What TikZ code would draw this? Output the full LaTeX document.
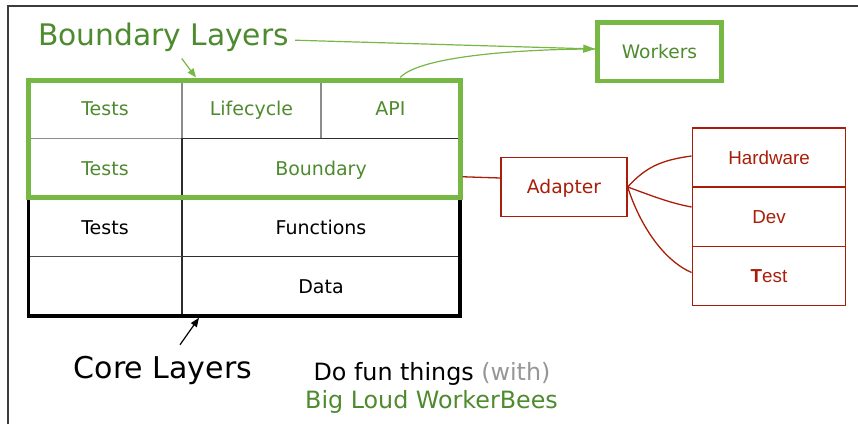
\documentclass[tikz,border=0pt]{standalone}
\usepackage{fontspec}
\setmainfont{DejaVu Sans}
\newfontfamily\arialfont{Liberation Sans}
\usetikzlibrary{arrows.meta}
\definecolor{gline}{RGB}{119,183,67}
\definecolor{gtext}{RGB}{78,138,46}
\definecolor{rcol}{RGB}{168,30,10}
\definecolor{framecol}{RGB}{60,60,60}
\definecolor{softgray}{RGB}{150,150,150}
\definecolor{cellgray}{RGB}{140,140,140}
\definecolor{celldark}{RGB}{45,45,45}
\begin{document}
\begin{tikzpicture}[x=1pt,y=-1pt,
  cell/.style={inner sep=0pt, text height=13.8pt, text depth=0pt, font=\fontsize{19}{23}\selectfont},
  gcell/.style={cell, text=gtext},
  kcell/.style={cell, text=black},
  rbox/.style={draw=rcol, line width=1.4pt, text=rcol, inner sep=0pt, minimum width=153.5pt, minimum height=59pt, text height=13.4pt, text depth=0pt, font=\arialfont\fontsize{18.8}{22}\selectfont},
  big/.style={inner sep=0pt, text depth=0pt, font=\fontsize{29.7}{35}\selectfont},
  gridl/.style={line width=1.5pt}
]
\useasboundingbox (0,0) rectangle (858,424);
% frame
\draw[framecol, line width=1.6pt] (8,424) -- (8,6) -- (858,6);

% table inner grid
\draw[gridl, cellgray] (182,80) -- (182,138);
\draw[gridl, cellgray] (321,80) -- (321,138);
\draw[gridl, cellgray] (28.5,138.3) -- (182,138.3);
\draw[gridl, celldark] (182,138.3) -- (460,138.3);
\draw[gridl, celldark] (182,138.3) -- (182,316);
\draw[gridl, black!70] (28.5,256.7) -- (182,256.7);
\draw[gridl, celldark] (182,256.7) -- (460,256.7);

% thick boxes
\node[draw=black, line width=3.6pt, minimum width=431.5pt, minimum height=118.5pt, inner sep=0pt] (core) at (244.25,256.75) {};
\node[draw=gline, line width=5pt, minimum width=431.5pt, minimum height=117.5pt, inner sep=0pt] (bnd) at (244.25,138.75) {};

% cell texts
\node[gcell] (t1) at (105,109) {Tests};
\node[gcell] (lc) at (251.5,109) {Lifecycle};
\node[gcell] (api) at (390.5,109) {API};
\node[gcell] (t2) at (105,168.2) {Tests};
\node[gcell] (bd) at (321,168.2) {Boundary};
\node[kcell] (t3) at (105,227.3) {Tests};
\node[kcell] (fn) at (321,227.3) {Functions};
\node[kcell] (dt) at (321,286.3) {Data};

% labels
\node[big, text=gtext, text height=21.6pt] (bl) at (163.5,34.2) {Boundary Layers};
\node[big, text=black, text height=21.9pt, font=\fontsize{30}{36}\selectfont] (cl) at (163,367.4) {Core Layers};
\node[anchor=base, inner sep=0pt, font=\fontsize{23.8}{28}\selectfont] (fun) at (432,380.7) {Do fun things \textcolor{softgray}{(with)}};
\node[anchor=base, inner sep=0pt, text=gtext, font=\fontsize{23.8}{28}\selectfont] (bees) at (431.5,408.3) {Big Loud WorkerBees};

% workers
\node[draw=gline, line width=4.5pt, minimum width=124pt, minimum height=58.5pt, inner sep=0pt, text=gtext, text height=13.5pt, text depth=0pt, font=\fontsize{18.6}{22}\selectfont] (wk) at (659.5,51.75) {Workers};

% adapter
\node[draw=rcol, line width=1.4pt, minimum width=126pt, minimum height=59pt, inner sep=0pt, text=rcol, text height=13.3pt, text depth=0pt, font=\fontsize{18.7}{22}\selectfont] (adp) at (564,187) {Adapter};

% right stack
\node[rbox] (hw) at (769,157.5) {Hardware};
\node[rbox] (dev) at (769,217) {Dev};
\node[rbox] (tst) at (769,276) {{\bfseries T}est};

% connectors
\draw[gline, line width=1.2pt, -{Triangle[length=12pt,width=8pt]}] ([xshift=6pt,yshift=-6pt]bl.east) -- ([yshift=2.75pt]wk.west);
\draw[gline, line width=1.2pt] ([xshift=156pt]bnd.north) .. controls +(20,-22) and +(-70,0) .. ([yshift=2.75pt]wk.west);
\draw[gline, line width=1.2pt, -{Triangle[length=9pt,width=7pt]}] ([xshift=18.2pt,yshift=-13.3pt]bl.south) -- ([xshift=-48.25pt]bnd.north);
\draw[black, line width=1.2pt, -{Triangle[length=9pt,width=7pt]}] ([xshift=17pt,yshift=11.5pt]cl.north) -- ([xshift=-45.25pt]core.south);

\draw[rcol, line width=1.3pt] ([yshift=-38pt]bnd.east) -- ([yshift=9pt]adp.west);
\draw[rcol, line width=1.3pt] (adp.east) .. controls +(18,-20) and +(-30,4) .. ([yshift=1.5pt]hw.west);
\draw[rcol, line width=1.3pt] (adp.east) .. controls +(22,8) and +(-22,-4) .. ([yshift=10pt]dev.west);
\draw[rcol, line width=1.3pt] (adp.east) .. controls +(12,38) and +(-28,-12) .. ([yshift=3.5pt]tst.west);
\end{tikzpicture}
\end{document}
